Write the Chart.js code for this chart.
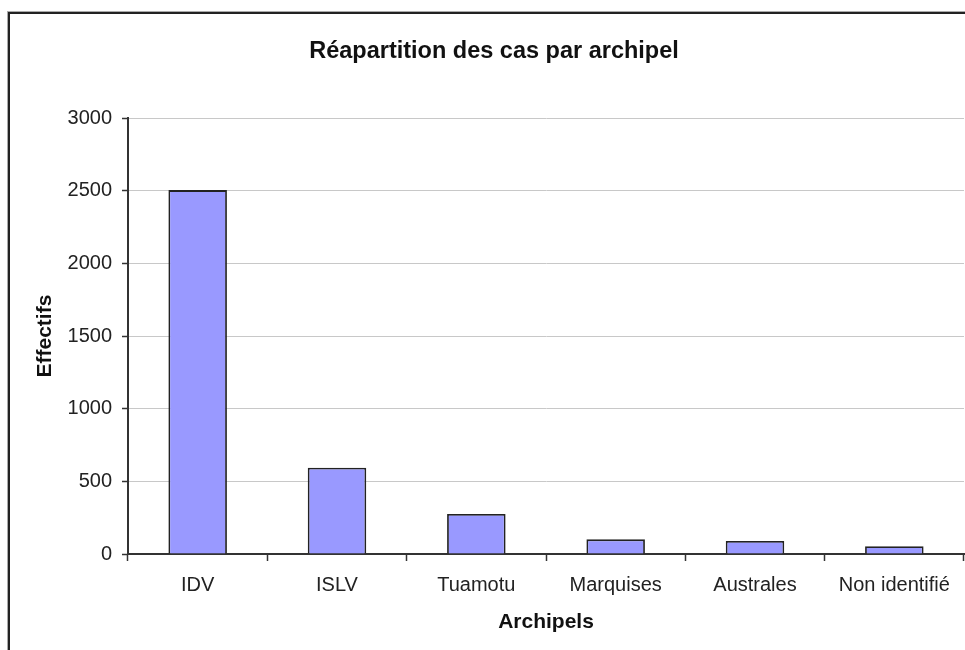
<!DOCTYPE html>
<html>
<head>
<meta charset="utf-8">
<script src="https://cdn.jsdelivr.net/npm/chart.js@4"></script>
<style>
  body { margin: 0; background: #fff; }
  #wrap { position: relative; width: 965px; height: 650px; overflow: hidden; }
  #chart { position: absolute; left: 0; top: 0; }
  #frame {
    position: absolute; left: 8px; top: 12px; width: 1000px; height: 700px;
    border-left: 2px solid #222; border-top: 2px solid #222;
    box-shadow: -1px -1px 0 #aaa;
    pointer-events: none;
  }
</style>
</head>
<body>
<div id="wrap">
  <canvas id="chart" width="965" height="650"></canvas>
  <div id="frame"></div>
</div>
<script>
const archipels = ['IDV', 'ISLV', 'Tuamotu', 'Marquises', 'Australes', 'Non identifié'];
const effectifs = [2505, 594, 275, 101, 89, 53];
const yTicks = [0, 500, 1000, 1500, 2000, 2500, 3000];

const FONT = "'Liberation Sans', Arial, sans-serif";

new Chart(document.getElementById('chart'), {
  type: 'bar',
  data: {
    labels: archipels,
    datasets: [{
      label: 'Effectifs',
      data: effectifs,
      backgroundColor: '#9999ff',
      borderColor: '#222',
      borderWidth: 1.8,
      borderSkipped: 'bottom',
      barPercentage: 0.42,
      categoryPercentage: 1,
    }],
  },
  options: {
    responsive: false,
    animation: false,
    // left padding shifts the title centre like in the original frame
    layout: { padding: { left: 24, right: 1, top: 0, bottom: 0 } },
    plugins: {
      legend: { display: false },
      tooltip: { enabled: false },
      title: {
        display: true,
        text: 'Réapartition des cas par archipel',
        color: '#111',
        font: { family: FONT, size: 23.5, weight: 'bold' },
        padding: { top: 37, bottom: 53 },
      },
    },
    scales: {
      x: {
        offset: true,
        grid: {
          display: true,
          offset: true,
          drawOnChartArea: false,
          tickLength: 7,
          tickColor: '#333',
          tickWidth: 1.5,
        },
        border: { color: '#333', width: 2 },
        ticks: {
          color: '#222',
          font: { family: FONT, size: 20 },
          padding: 12,
          maxRotation: 0,
          autoSkip: false,
        },
        title: {
          display: true,
          text: 'Archipels',
          color: '#111',
          font: { family: FONT, size: 21, weight: 'bold' },
          padding: { top: 0, bottom: 15 },
        },
        afterFit: (scale) => { scale.height = 96; },
      },
      y: {
        min: 0,
        max: 3000,
        afterBuildTicks: (scale) => { scale.ticks = yTicks.map((v) => ({ value: v })); },
        grid: {
          color: '#c8c8c8',
          lineWidth: 1,
          tickLength: 6,
          tickColor: '#333',
          tickWidth: 1.5,
        },
        border: { color: '#333', width: 2 },
        ticks: {
          color: '#222',
          font: { family: FONT, size: 20 },
          padding: 10,
          callback: (value) => String(value),
        },
        title: {
          display: true,
          text: 'Effectifs',
          color: '#111',
          font: { family: FONT, size: 21, weight: 'bold' },
          padding: { top: 9, bottom: 0 },
        },
        afterFit: (scale) => { scale.width = 104; },
      },
    },
  },
});
</script>
</body>
</html>
